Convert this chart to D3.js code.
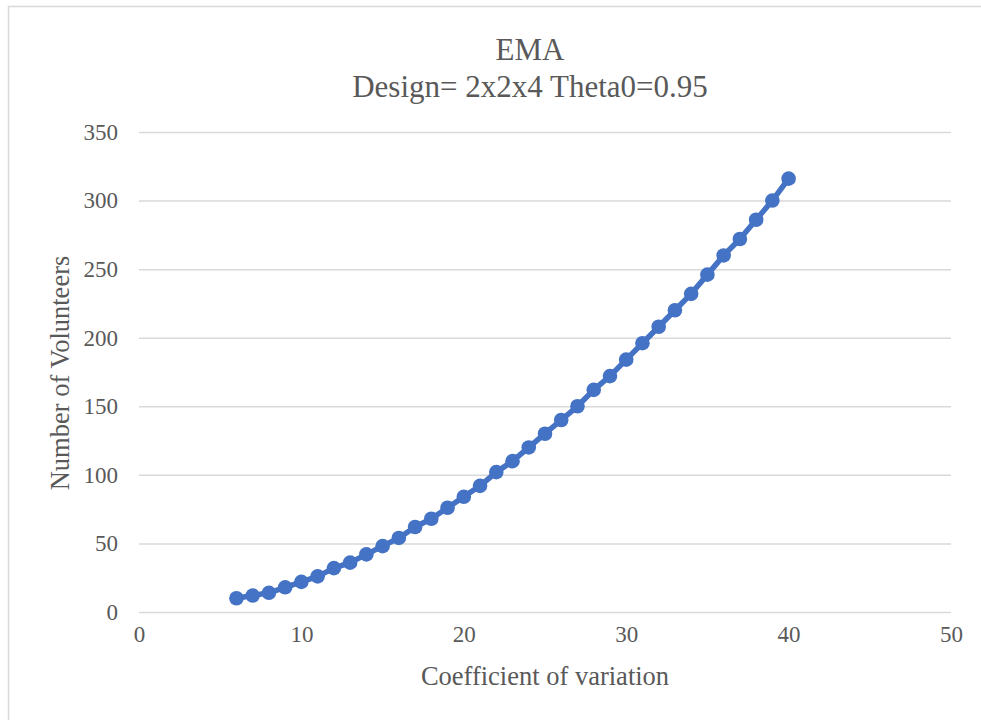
<!DOCTYPE html>
<html>
<head>
<meta charset="utf-8">
<script src="https://cdn.jsdelivr.net/npm/d3@7"></script>
<style>
  html, body { margin: 0; padding: 0; background: #fff; }
  svg { display: block; }
</style>
</head>
<body>
<svg id="chart" width="981" height="720"></svg>
<script>
const cv = [6,7,8,9,10,11,12,13,14,15,16,17,18,19,20,21,22,23,24,25,26,27,28,29,30,31,32,33,34,35,36,37,38,39,40];
const volunteers = [10,12,14,18,22,26,32,36,42,48,54,62,68,76,84,92,102,110,120,130,140,150,162,172,184,196,208,220,232,246,260,272,286,300,316];
const xTicks = [0,10,20,30,40,50];
const yTicks = [0,50,100,150,200,250,300,350];
const titleLines = ["EMA", "Design= 2x2x4 Theta0=0.95"];
const xTitle = "Coefficient of variation";
const yTitle = "Number of Volunteers";

(function () {
const svg = d3.select("#chart");
const font = "'Liberation Serif', 'Times New Roman', serif";
const textColor = "#595959";
const gridColor = "#d9d9d9";
const seriesColor = "#4472C4";

// border
svg.append("rect").attr("x", 8.5).attr("y", 6.5).attr("width", 1000).attr("height", 800)
  .attr("fill", "none").attr("stroke", gridColor).attr("stroke-width", 1.5);

const mLeft = 139, mRight = 951, mTop = 132, mBottom = 612;
const x = d3.scaleLinear().domain([0, 50]).range([mLeft, mRight]);
const y = d3.scaleLinear().domain([0, 350]).range([mBottom, mTop]);

// gridlines
const yGrid = d3.axisLeft(y).tickValues(yTicks).tickSize(-(mRight - mLeft)).tickFormat("");
const gg = svg.append("g").attr("transform", `translate(${mLeft},0)`).call(yGrid);
gg.select(".domain").remove();
gg.selectAll("line").attr("stroke", gridColor).attr("stroke-width", 1.5);

// y tick labels
const yAxis = d3.axisLeft(y).tickValues(yTicks).tickSize(0).tickPadding(21);
const ya = svg.append("g").attr("transform", `translate(${mLeft},0)`).call(yAxis);
ya.select(".domain").remove();
ya.selectAll("text").attr("font-family", font).attr("font-size", 23).attr("fill", textColor);

// x tick labels
const xAxis = d3.axisBottom(x).tickValues(xTicks).tickSize(0).tickPadding(14);
const xa = svg.append("g").attr("transform", `translate(0,${mBottom})`).call(xAxis);
xa.select(".domain").remove();
xa.selectAll("text").attr("font-family", font).attr("font-size", 23).attr("fill", textColor);

// line
const data = cv.map((d, i) => ({x: d, y: volunteers[i]}));
svg.append("path").datum(data)
  .attr("fill", "none").attr("stroke", seriesColor).attr("stroke-width", 5.5)
  .attr("stroke-linejoin", "round").attr("stroke-linecap", "round")
  .attr("d", d3.line().x(d => x(d.x)).y(d => y(d.y)));
svg.append("g").selectAll("circle").data(data).join("circle")
  .attr("cx", d => x(d.x)).attr("cy", d => y(d.y)).attr("r", 7.3)
  .attr("fill", seriesColor);

// title
svg.append("text").attr("x", 530).attr("y", 60).attr("text-anchor", "middle")
  .attr("font-family", font).attr("font-size", 31).attr("fill", textColor).text(titleLines[0]);
svg.append("text").attr("x", 530).attr("y", 97).attr("text-anchor", "middle")
  .attr("font-family", font).attr("font-size", 31).attr("fill", textColor).text(titleLines[1]);

// axis titles
svg.append("text").attr("x", 545).attr("y", 685).attr("text-anchor", "middle")
  .attr("font-family", font).attr("font-size", 26.5).attr("fill", textColor).text(xTitle);
svg.append("text").attr("transform", `translate(69,${(mTop + mBottom) / 2 + 1}) rotate(-90)`)
  .attr("text-anchor", "middle")
  .attr("font-family", font).attr("font-size", 26.5).attr("fill", textColor).text(yTitle);
})();
</script>
</body>
</html>
